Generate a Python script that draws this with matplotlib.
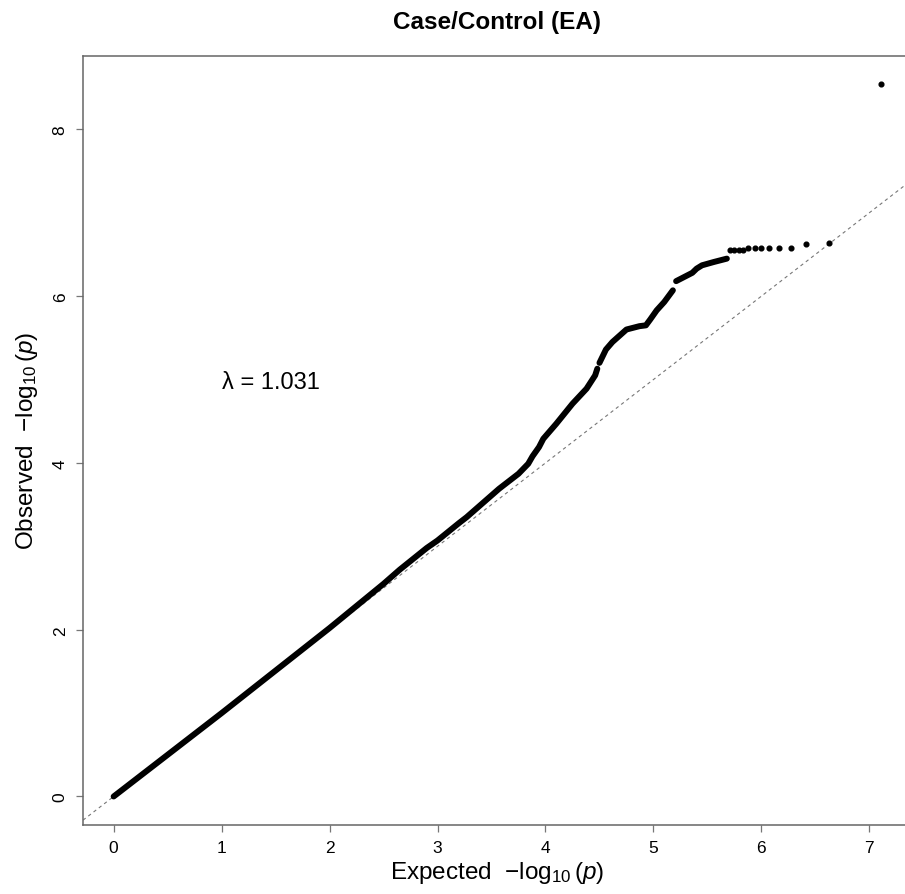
import matplotlib
matplotlib.use("Agg")
import matplotlib.pyplot as plt

plt.rcParams['font.family'] = ['Liberation Sans', 'DejaVu Sans']
plt.rcParams['mathtext.fontset'] = 'custom'
plt.rcParams['mathtext.rm'] = 'Liberation Sans'
plt.rcParams['mathtext.it'] = 'Liberation Sans:italic'
plt.rcParams['mathtext.bf'] = 'Liberation Sans:bold'

# observed vs expected -log10(p)
curve_x = [0.0, 0.5, 1.0, 1.5, 2.0, 2.5, 2.65, 2.9, 3.0, 3.2, 3.27, 3.57, 3.75,
           3.84, 3.88, 3.94, 3.98, 4.10, 4.25, 4.38, 4.46, 4.48]
curve_y = [0.0, 0.5, 1.0, 1.51, 2.02, 2.55, 2.72, 2.98, 3.07, 3.28, 3.35, 3.69, 3.87,
           3.99, 4.08, 4.19, 4.29, 4.47, 4.71, 4.89, 5.05, 5.13]
mid_x = [4.50, 4.56, 4.62, 4.75, 4.87, 4.93, 4.97, 5.03, 5.10, 5.18]
mid_y = [5.20, 5.36, 5.45, 5.60, 5.64, 5.65, 5.72, 5.83, 5.93, 6.07]
upper_x = [5.21, 5.30, 5.36, 5.40, 5.45, 5.56, 5.68]
upper_y = [6.18, 6.24, 6.28, 6.33, 6.37, 6.41, 6.45]
tail_x = [5.71, 5.75, 5.79, 5.83, 5.88, 5.94, 6.00, 6.07, 6.16, 6.27, 6.41, 6.63, 7.11]
tail_y = [6.55, 6.55, 6.55, 6.55, 6.58, 6.58, 6.58, 6.58, 6.58, 6.58, 6.62, 6.64, 8.54]

lambda_gc = 1.031
x_ticks = [0, 1, 2, 3, 4, 5, 6, 7]
y_ticks = [0, 2, 4, 6, 8]

W, H = 905, 895
fig = plt.figure(figsize=(W / 100, H / 100), dpi=100)
ax = fig.add_axes([83 / W, 1 - 826 / H, (912 - 83) / W, (826 - 57) / H])

ax.axline((0, 0), slope=1, color='#777777', lw=0.8, ls=(0, (3, 3)))
for xs, ys in [(curve_x, curve_y), (mid_x, mid_y), (upper_x, upper_y)]:
    ax.plot(xs, ys, color='black', lw=4.3, solid_capstyle='round',
            solid_joinstyle='round')
ax.plot(tail_x, tail_y, 'o', color='black', ms=3.4, mec='black')

ax.set_xlim(-0.284, 7.395)
ax.set_ylim(-0.342, 8.88)

ax.set_xticks(x_ticks)
ax.set_yticks(y_ticks)
ax.tick_params(direction='out', length=5, width=0.9, color='#777777',
               labelsize=12.5, pad=6)
for lab in ax.get_yticklabels():
    lab.set_rotation(90)
    lab.set_va('center')
for s in ['left', 'bottom', 'top', 'right']:
    ax.spines[s].set_color('#666666')
    ax.spines[s].set_linewidth(1.1)

ax.text(1.46, 4.97, 'λ = %.3f' % lambda_gc, fontsize=17, ha='center', va='center')

fig.text(497 / W, 1 - 873 / H, r'Expected  $-\log_{10}(p)$', fontsize=17.5,
         ha='center', va='center')
fig.text(27 / W, 1 - 441 / H, r'Observed  $-\log_{10}(p)$', fontsize=17.5,
         ha='center', va='center', rotation=90)
fig.text(497 / W, 1 - 22 / H, 'Case/Control (EA)', fontsize=17.5, fontweight='bold',
         ha='center', va='center')

fig.savefig('out.png', dpi=100)
